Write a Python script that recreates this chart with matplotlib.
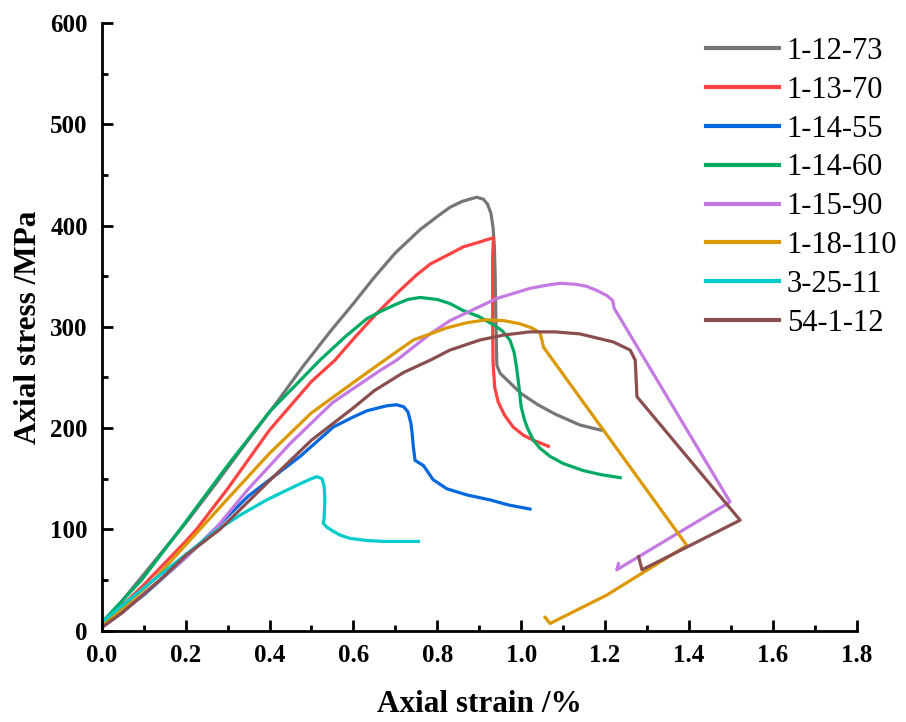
import numpy as np
import matplotlib
matplotlib.use('Agg')
import matplotlib.pyplot as plt
from matplotlib.ticker import MultipleLocator, FormatStrFormatter

plt.rcParams['font.family'] = ['Liberation Serif', 'DejaVu Serif']

## sample names and colours
names = ['1-12-73', '1-13-70', '1-14-55', '1-14-60', '1-15-90', '1-18-110', '3-25-11', '54-1-12']
colors = ['#767676', '#FF4242', '#0068DC', '#00AA64', '#C47AE2', '#DC9800', '#00CCCC', '#8A4E4E']

## stress-strain curves (strain %, stress MPa)
x_12_73 = [0.0, 0.05, 0.115, 0.2, 0.27, 0.34, 0.415, 0.48, 0.544, 0.6, 0.65, 0.7, 0.759, 0.8, 0.83,
           0.86, 0.894, 0.91, 0.92, 0.928, 0.933, 0.936, 0.938, 0.94, 0.942, 0.95, 0.97, 1.0, 1.04,
           1.08, 1.14, 1.19]
y_12_73 = [5, 30, 63, 106, 144, 183, 224, 261, 295, 323, 349, 373, 396, 409, 418,
           424, 428, 426, 421, 412, 398, 380, 350, 300, 262, 254, 246, 234, 223,
           214, 203, 198]

x_13_70 = [0.0, 0.1, 0.2, 0.226, 0.3, 0.4, 0.5, 0.556, 0.6, 0.655, 0.711, 0.75, 0.783, 0.83, 0.862,
           0.895, 0.918, 0.934, 0.932, 0.932, 0.933, 0.937, 0.945, 0.96, 0.981, 1.005, 1.029, 1.065]
y_13_70 = [5, 45, 88, 100, 140, 198, 246, 267, 288, 313, 336, 351, 362, 372, 379,
           383, 386, 388, 370, 300, 264, 240, 226, 213, 201, 193, 188, 182]

x_14_55 = [0.0, 0.1, 0.2, 0.274, 0.35, 0.473, 0.552, 0.6, 0.632, 0.66, 0.68, 0.703, 0.72, 0.73,
           0.737, 0.74, 0.743, 0.747, 0.767, 0.79, 0.823, 0.87, 0.926, 0.97, 1.021]
y_14_55 = [3, 35, 72, 102, 133, 172, 201, 211, 217, 220, 222, 223, 221, 216,
           205, 195, 181, 168, 163, 149, 140, 134, 129, 124, 120]

x_14_60 = [0.0, 0.05, 0.095, 0.187, 0.3, 0.4, 0.52, 0.58, 0.632, 0.664, 0.7, 0.73, 0.759, 0.8,
           0.83, 0.862, 0.9, 0.934, 0.955, 0.973, 0.983, 0.989, 0.995, 1.0, 1.008, 1.015, 1.029,
           1.045, 1.069, 1.1, 1.148, 1.19, 1.236]
y_14_60 = [8, 30, 50, 100, 163, 216, 267, 290, 308, 315, 322, 327, 329, 327,
           323, 316, 310, 302, 296, 287, 275, 260, 240, 221, 208, 200, 188,
           180, 172, 165, 158, 154, 151]

x_15_90 = [0.0, 0.05, 0.139, 0.2, 0.27, 0.35, 0.45, 0.55, 0.664, 0.703, 0.783, 0.83, 0.86, 0.942,
           1.021, 1.06, 1.093, 1.13, 1.156, 1.18, 1.204, 1.218, 1.222, 1.228, 1.498, 1.228, 1.232]
y_15_90 = [3, 18, 50, 72, 100, 140, 185, 225, 257, 267, 293, 306, 312, 328,
           338, 341, 343, 342, 340, 336, 331, 326, 318, 314, 127, 60, 66]

x_18_110 = [0.0, 0.05, 0.124, 0.234, 0.3, 0.4, 0.5, 0.6, 0.664, 0.743, 0.823, 0.87, 0.918, 0.96,
            0.997, 1.025, 1.045, 1.05, 1.053, 1.395, 1.204, 1.069, 1.057]
y_18_110 = [5, 22, 50, 100, 130, 175, 215, 245, 264, 287, 299, 304, 307, 306,
            303, 299, 294, 286, 280, 84, 35, 7, 13]

x_25_11 = [0.0, 0.05, 0.115, 0.2, 0.274, 0.33, 0.393, 0.473, 0.5, 0.513, 0.525, 0.53, 0.532, 0.53,
           0.528, 0.537, 0.552, 0.57, 0.592, 0.63, 0.671, 0.755]
y_25_11 = [8, 25, 47, 75, 99, 114, 129, 145, 150, 152, 150, 143, 130, 110,
           106, 102, 98, 94, 91, 89, 88, 88]

x_54_1 = [0.0, 0.05, 0.139, 0.2, 0.282, 0.4, 0.5, 0.6, 0.65, 0.72, 0.783, 0.83, 0.902, 0.96, 1.021,
          1.08, 1.14, 1.22, 1.26, 1.272, 1.276, 1.522, 1.288, 1.28]
y_54_1 = [3, 18, 50, 74, 100, 148, 188, 220, 237, 255, 267, 277, 287, 292, 295,
          295, 293, 285, 277, 267, 231, 109, 60, 73]

xs = [x_12_73, x_13_70, x_14_55, x_14_60, x_15_90, x_18_110, x_25_11, x_54_1]
ys = [y_12_73, y_13_70, y_14_55, y_14_60, y_15_90, y_18_110, y_25_11, y_54_1]

fig = plt.figure(figsize=(9.06, 7.22), dpi=100)
ax = fig.add_axes([0.1123, 0.1267, 0.8333, 0.8413])

for xx, yy, c, n in zip(xs, ys, colors, names):
    ax.plot(xx, yy, color=c, lw=2.3, label=n, solid_joinstyle='round')

ax.set_xlim(0, 1.8)
ax.set_ylim(0, 600)
ax.xaxis.set_major_locator(MultipleLocator(0.2))
ax.xaxis.set_minor_locator(MultipleLocator(0.1))
ax.xaxis.set_major_formatter(FormatStrFormatter('%.1f'))
ax.yaxis.set_major_locator(MultipleLocator(100))
ax.yaxis.set_minor_locator(MultipleLocator(50))

ax.spines['top'].set_visible(False)
ax.spines['right'].set_visible(False)
for s in ['left', 'bottom']:
    ax.spines[s].set_linewidth(2)
ax.tick_params(which='major', direction='in', length=8, width=2, labelsize=18, pad=10)
ax.tick_params(which='minor', direction='in', length=4, width=2)
for lab in ax.get_xticklabels() + ax.get_yticklabels():
    lab.set_fontweight('bold')

ax.set_xlabel('Axial strain /%', fontsize=22.5, fontweight='bold', labelpad=16)
ax.set_ylabel('Axial stress /MPa', fontsize=22.5, fontweight='bold', labelpad=5)

leg = ax.legend(loc='upper right', bbox_to_anchor=(1.07, 0.997), frameon=False, fontsize=22,
                handlelength=2.4, handletextpad=0.25, labelspacing=0.32, borderaxespad=0)
for h in leg.get_lines():
    h.set_linewidth(3)

fig.savefig('out.png', dpi=100)
